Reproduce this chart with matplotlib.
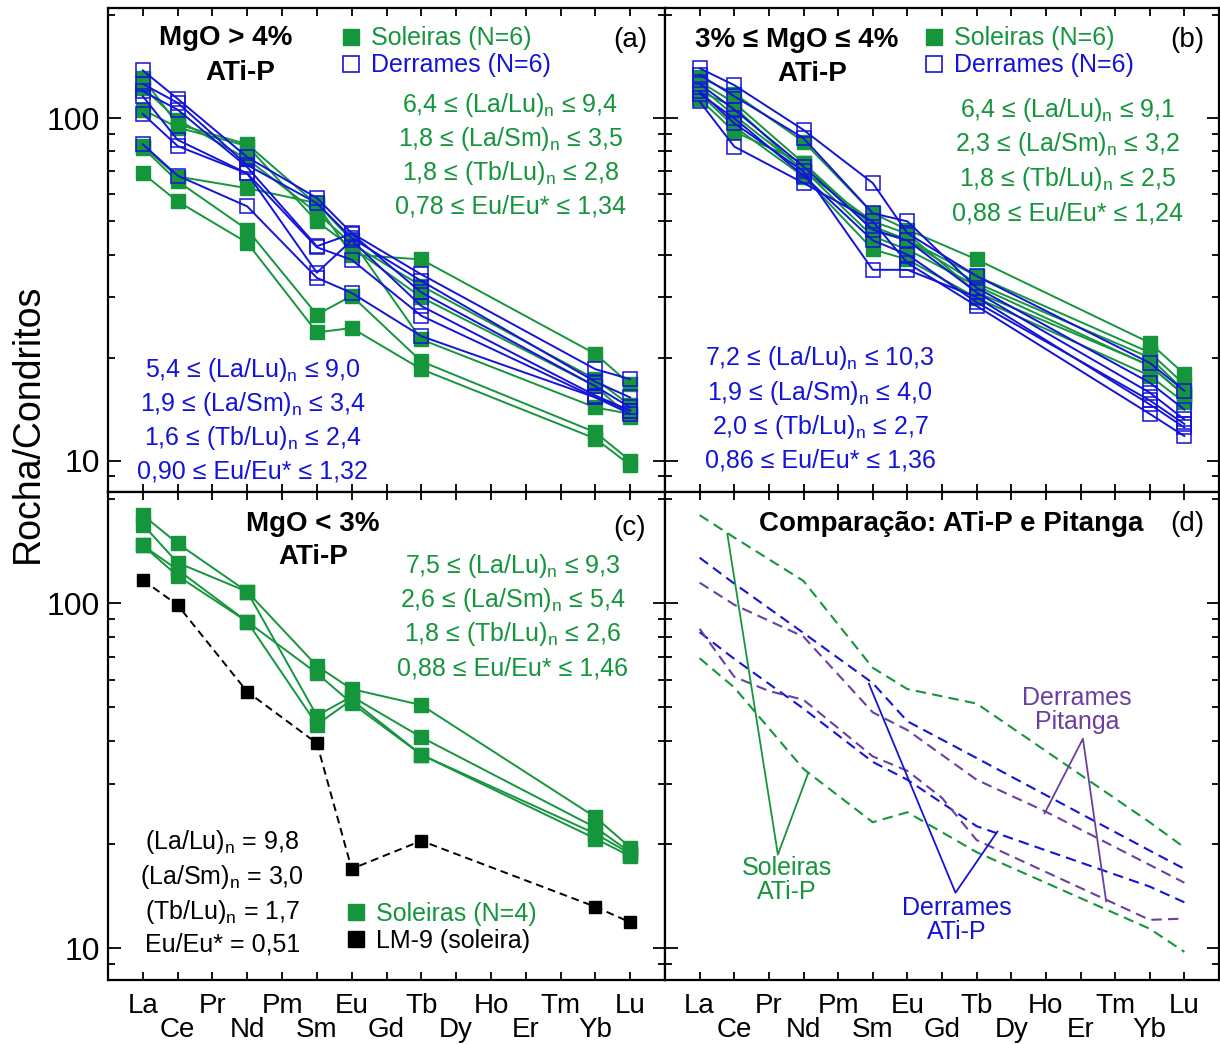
import numpy as np
import matplotlib
matplotlib.use("Agg")
import matplotlib.pyplot as plt
from matplotlib.lines import Line2D
from matplotlib.ticker import FixedLocator, NullFormatter

plt.rcParams['font.family'] = ['Liberation Sans', 'DejaVu Sans']
plt.rcParams['mathtext.fontset'] = 'custom'
plt.rcParams['mathtext.rm'] = 'Liberation Sans'
plt.rcParams['mathtext.it'] = 'Liberation Sans:italic'
plt.rcParams['mathtext.bf'] = 'Liberation Sans:bold'

REE = ['La', 'Ce', 'Pr', 'Nd', 'Pm', 'Sm', 'Eu', 'Gd', 'Tb', 'Dy', 'Ho', 'Er', 'Tm', 'Yb', 'Lu']
atip_elems = ['La', 'Ce', 'Nd', 'Sm', 'Eu', 'Tb', 'Yb', 'Lu']

# (a) MgO > 4%
a_soleiras = [
    [131, 96, 84, 56, 40, 38.7, 20.5, 16.7],
    [123, 99, 76, 53, 43, 32.4, 17.3, 14.5],
    [106, 94, 83, 50, 42, 30, 16.5, 13.4],
    [83, 67.6, 62.5, 56.5, 44, 22.6, 14.3, 13.7],
    [82, 65.5, 47.3, 26.7, 30.3, 19.5, 12.1, 10.0],
    [69, 57.2, 43.3, 23.7, 24.4, 18.5, 11.6, 9.7],
]
a_derrames = [
    [138, 114, 77, 58.5, 46.2, 35, 18.5, 17.3],
    [126, 111, 73, 56.5, 44.7, 33.5, 17, 15.3],
    [120, 106, 72, 42.3, 46, 31, 16.5, 14.3],
    [116, 86.5, 69, 35.4, 44, 28.3, 15.5, 14],
    [103, 83, 69, 42, 38.6, 26.5, 15.3, 13.7],
    [84, 68, 55.3, 34.2, 30.9, 23.1, 15.3, 14],
]
# (b) 3% <= MgO <= 4%
b_soleiras = [
    [132, 118, 85.5, 52.8, 47.3, 38.7, 22.1, 17.9],
    [128, 111, 74, 48.3, 44.2, 34.6, 20.7, 16.7],
    [124, 102, 70.8, 45.2, 41.4, 32.4, 18.9, 15.6],
    [118, 94.6, 67.6, 41.4, 38.7, 29.9, 17.7, 14.8],
    [114, 91.4, 74, 47, 44, 33, 20, 16],
    [120, 108, 70, 50, 46, 31, 19, 15.5],
]
b_derrames = [
    [140, 125, 92.5, 64.7, 46.2, 34.6, 19.3, 16],
    [134, 116, 87.5, 52.8, 50, 32, 16.9, 14.1],
    [126, 106, 72.3, 47.3, 44, 31, 15.8, 13.2],
    [120, 96.7, 70, 36.1, 36.1, 30, 14.6, 12.5],
    [112, 82.7, 64.7, 50, 37.8, 28.3, 13.7, 11.8],
    [118, 100, 68, 44, 40, 29, 15, 12.8],
]
# (c) MgO < 3%
c_soleiras = [
    [180, 149, 108, 65.8, 56.4, 50.7, 24.0, 19.6],
    [169, 131, 108, 47.2, 53.7, 40.9, 22.4, 19.0],
    [147, 125, 88.4, 62.7, 51.3, 36.4, 20.8, 18.5],
    [147, 120, 88.4, 44.5, 52.5, 36.4, 21.5, 18.8],
]
lm9 = [116.7, 98.8, 55.4, 39.3, 17.0, 20.5, 13.2, 11.9]

# (d) envelopes
sol_upper = [180, 155, 116, 65, 56.4, 51.2, 23.2, 19.6]
sol_lower = [69.3, 57, 33.1, 23.2, 24.8, 19, 11.4, 9.77]
der_upper = [135.5, 114, 82, 58.7, 45.5, 35.6, 19.2, 17.0]
der_lower = [82.4, 69, 49.5, 34.7, 30.8, 22.6, 15.1, 13.6]
pit_upper_elems = ['La', 'Ce', 'Nd', 'Sm', 'Eu', 'Tb', 'Ho', 'Lu']
pit_upper = [114.7, 99, 80, 48.3, 42.9, 30.8, 24.9, 15.5]
pit_lower_elems = ['La', 'Ce', 'Pr', 'Nd', 'Sm', 'Eu', 'Gd', 'Tb', 'Yb', 'Lu']
pit_lower = [84.3, 61.2, 55.7, 52.5, 36, 32.7, 27.3, 20.6, 12.1, 12.2]

GREEN = '#15953c'
BLUE = '#1414d8'
PURPLE = '#6a3fa0'


def pos(elems):
    return [REE.index(e) for e in elems]


def ratio(lo, r, hi, sym='≤'):
    return f"{lo} {sym} ({r})$_\\mathregular{{n}}$ {sym} {hi}"


def setup(ax, xlabels, ylabels):
    ax.set_yscale('log')
    ax.set_xlim(-1, 15)
    ax.set_ylim(8.1, 210)
    ax.set_xticks(range(0, 15, 2))
    ax.set_xticks(range(1, 15, 2), minor=True)
    if xlabels:
        ax.set_xticklabels(REE[0::2])
        ax.set_xticklabels(REE[1::2], minor=True)
    else:
        ax.set_xticklabels([])
        ax.set_xticklabels([], minor=True)
    ax.yaxis.set_major_locator(FixedLocator([10, 100]))
    ax.yaxis.set_minor_locator(FixedLocator([9, 20, 30, 40, 50, 60, 70, 80, 90, 200]))
    ax.yaxis.set_minor_formatter(NullFormatter())
    if ylabels:
        ax.set_yticklabels(['10', '100'])
    else:
        ax.set_yticklabels([])
    ax.tick_params(which='both', direction='in', top=True, right=True, width=1.3)
    ax.tick_params(axis='y', which='major', length=9, labelsize=23, pad=6)
    ax.tick_params(axis='y', which='minor', length=5)
    ax.tick_params(axis='x', which='major', length=6, labelsize=20, pad=9.5)
    ax.tick_params(axis='x', which='minor', length=6, labelsize=20, pad=26.5)
    for s in ax.spines.values():
        s.set_linewidth(1.6)


fig = plt.figure(figsize=(12.2, 10.44), dpi=100)
W, H = 1220, 1044
axa = fig.add_axes([108 / W, 1 - 492 / H, 557 / W, 484 / H])
axb = fig.add_axes([665 / W, 1 - 492 / H, 554 / W, 484 / H])
axc = fig.add_axes([108 / W, 1 - 980 / H, 557 / W, 488 / H])
axd = fig.add_axes([665 / W, 1 - 980 / H, 554 / W, 488 / H])
setup(axa, False, True)
setup(axb, False, False)
setup(axc, True, True)
setup(axd, True, False)

x = pos(atip_elems)
ms = 10

def leg(ax, handles, labels, colors, anchor):
    ax.legend(handles, labels, loc='upper left', bbox_to_anchor=anchor, frameon=False,
              fontsize=18, labelcolor=colors, handlelength=0.8, handletextpad=0.4,
              labelspacing=0.12, borderpad=0, borderaxespad=0)

h_sol = Line2D([], [], ls='none', marker='s', ms=11, color=GREEN)
h_der = Line2D([], [], ls='none', marker='s', ms=11, mfc='none', mec=BLUE, mew=1.2)

# panel (a) and (b)
for ax, sol, der in [(axa, a_soleiras, a_derrames), (axb, b_soleiras, b_derrames)]:
    for s in sol:
        ax.plot(x, s, '-s', color=GREEN, ms=ms, lw=1.4)
    for s in der:
        ax.plot(x, s, '-s', color=BLUE, mfc='none', mec=BLUE, ms=ms, lw=1.4, mew=1.1)
    leg(ax, [h_sol, h_der], ['Soleiras (N=6)', 'Derrames (N=6)'], [GREEN, BLUE],
        (0.418, 0.962) if ax is axa else (0.468, 0.962))

bold = dict(fontsize=20, fontweight='bold', ha='center', va='center')
axa.text(0.212, 0.937, 'MgO > 4%', transform=axa.transAxes, **bold)
axa.text(0.237, 0.866, 'ATi-P', transform=axa.transAxes, **bold)
axa.text(0.937, 0.934, '(a)', transform=axa.transAxes, fontsize=20, ha='center', va='center')
axb.text(0.238, 0.934, '3% ≤ MgO ≤ 4%', transform=axb.transAxes, **bold)
axb.text(0.265, 0.864, 'ATi-P', transform=axb.transAxes, **bold)
axb.text(0.942, 0.934, '(b)', transform=axb.transAxes, fontsize=20, ha='center', va='center')

a_green_txt = [ratio('6,4', 'La/Lu', '9,4'), ratio('1,8', 'La/Sm', '3,5'),
               ratio('1,8', 'Tb/Lu', '2,8'), '0,78 ≤ Eu/Eu* ≤ 1,34']
a_blue_txt = [ratio('5,4', 'La/Lu', '9,0'), ratio('1,9', 'La/Sm', '3,4'),
              ratio('1,6', 'Tb/Lu', '2,4'), '0,90 ≤ Eu/Eu* ≤ 1,32']
b_green_txt = [ratio('6,4', 'La/Lu', '9,1'), ratio('2,3', 'La/Sm', '3,2'),
               ratio('1,8', 'Tb/Lu', '2,5'), '0,88 ≤ Eu/Eu* ≤ 1,24']
b_blue_txt = [ratio('7,2', 'La/Lu', '10,3'), ratio('1,9', 'La/Sm', '4,0'),
              ratio('2,0', 'Tb/Lu', '2,7'), '0,86 ≤ Eu/Eu* ≤ 1,36']
c_green_txt = [ratio('7,5', 'La/Lu', '9,3'), ratio('2,6', 'La/Sm', '5,4'),
               ratio('1,8', 'Tb/Lu', '2,6'), '0,88 ≤ Eu/Eu* ≤ 1,46']
c_black_txt = ['(La/Lu)$_\\mathregular{n}$ = 9,8', '(La/Sm)$_\\mathregular{n}$ = 3,0',
               '(Tb/Lu)$_\\mathregular{n}$ = 1,7', 'Eu/Eu* = 0,51']

def block(ax, lines, xc, ys, color):
    for t, yy in zip(lines, ys):
        ax.text(xc, yy, t, transform=ax.transAxes, fontsize=18, color=color,
                ha='center', va='center')

block(axa, a_green_txt, 0.722, [0.800, 0.730, 0.660, 0.590], GREEN)
block(axa, a_blue_txt, 0.260, [0.252, 0.182, 0.112, 0.042], BLUE)
block(axb, b_green_txt, 0.727, [0.790, 0.718, 0.646, 0.576], GREEN)
block(axb, b_blue_txt, 0.280, [0.276, 0.205, 0.135, 0.065], BLUE)

# panel (c)
for s in c_soleiras:
    axc.plot(x, s, '-s', color=GREEN, ms=ms, lw=1.4)
axc.plot(x, lm9, ls=(0, (4, 2.5)), color='black', lw=1.4, marker='s', ms=9)
axc.text(0.368, 0.934, 'MgO < 3%', transform=axc.transAxes, **bold)
axc.text(0.368, 0.866, 'ATi-P', transform=axc.transAxes, **bold)
axc.text(0.937, 0.926, '(c)', transform=axc.transAxes, fontsize=20, ha='center', va='center')
block(axc, c_green_txt, 0.727, [0.848, 0.779, 0.709, 0.639], GREEN)
block(axc, c_black_txt, 0.205, [0.283, 0.211, 0.139, 0.072], 'black')
h_lm = Line2D([], [], ls='none', marker='s', ms=11, color='black')
leg(axc, [h_sol, h_lm], ['Soleiras (N=4)', 'LM-9 (soleira)'], [GREEN, 'black'], (0.428, 0.160))

# panel (d)
dash = (0, (5, 3))
axd.plot(x, sol_upper, ls=dash, color=GREEN, lw=1.5)
axd.plot(x, sol_lower, ls=dash, color=GREEN, lw=1.5)
axd.plot(x, der_upper, ls=dash, color=BLUE, lw=1.5)
axd.plot(x, der_lower, ls=dash, color=BLUE, lw=1.5)
axd.plot(pos(pit_upper_elems), pit_upper, ls=dash, color=PURPLE, lw=1.5)
axd.plot(pos(pit_lower_elems), pit_lower, ls=dash, color=PURPLE, lw=1.5)

# leader lines
axd.plot([0.80, 2.26, 3.14], [158.7, 18.7, 32.3], color=GREEN, lw=1.3)
axd.plot([4.89, 7.39, 8.60], [58.4, 14.5, 21.8], color=BLUE, lw=1.3)
axd.plot([9.96, 11.07, 11.74], [24.6, 40.5, 13.7], color=PURPLE, lw=1.3)
axd.text(2.52, 15.8, 'Soleiras\nATi-P', color=GREEN, fontsize=18, ha='center', va='center', linespacing=1.0)
axd.text(7.43, 12.1, 'Derrames\nATi-P', color=BLUE, fontsize=18, ha='center', va='center', linespacing=1.0)
axd.text(10.9, 49.1, 'Derrames\nPitanga', color=PURPLE, fontsize=18, ha='center', va='center', linespacing=1.0)
axd.text(0.516, 0.934, 'Comparação: ATi-P e Pitanga', transform=axd.transAxes, **bold)
axd.text(0.942, 0.934, '(d)', transform=axd.transAxes, fontsize=20, ha='center', va='center')

fig.text(0.023, 0.595, 'Rocha/Condritos', rotation=90, fontsize=27, ha='center', va='center')

fig.savefig('out.png', dpi=100)
